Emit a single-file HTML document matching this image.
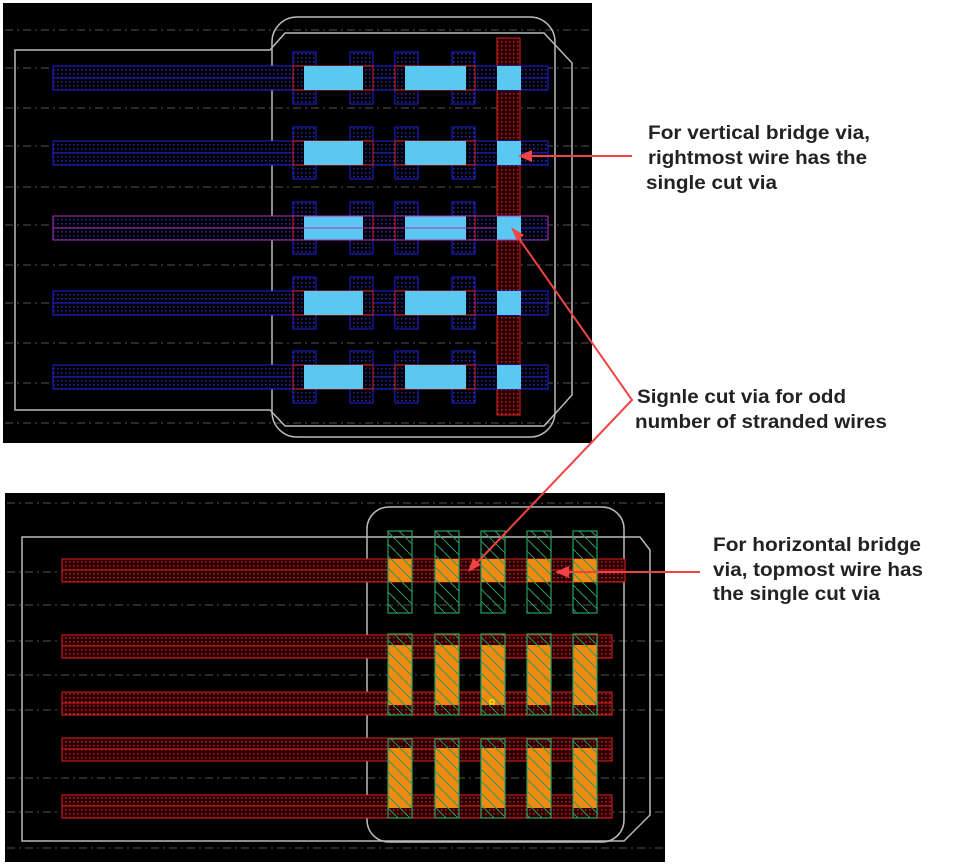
<!DOCTYPE html>
<html><head><meta charset="utf-8"><style>
html,body{margin:0;padding:0;background:#fff;}
svg{display:block;}
text{font-family:"Liberation Sans",Arial,sans-serif;font-weight:bold;font-size:19px;fill:#222;}
</style></head><body>
<svg width="960" height="866" viewBox="0 0 960 866" xmlns="http://www.w3.org/2000/svg">
<defs>
<pattern id="dotb" width="4" height="4" patternUnits="userSpaceOnUse"><rect width="4" height="4" fill="#000"/><rect x="1" y="1" width="1.5" height="1.5" fill="#2a2ab0"/></pattern>
<pattern id="dotr" width="4" height="4" patternUnits="userSpaceOnUse"><rect width="4" height="4" fill="#2a0000"/><rect x="1" y="1" width="1.5" height="1.5" fill="#c02020"/></pattern>
<pattern id="hatch" width="12" height="12" patternUnits="userSpaceOnUse"><path d="M0 0L12 12" stroke="#2a9a5a" stroke-width="1"/></pattern>
</defs>
<!-- TOP PANEL -->
<rect x="3" y="3" width="589" height="440" fill="#000"/>
<g stroke="#555" stroke-width="1" stroke-dasharray="8 4 2 4">
<line x1="5" y1="30" x2="590" y2="30"/><line x1="5" y1="68" x2="590" y2="68"/>
<line x1="5" y1="108" x2="590" y2="108"/><line x1="5" y1="146" x2="590" y2="146"/>
<line x1="5" y1="187" x2="590" y2="187"/><line x1="5" y1="225" x2="590" y2="225"/>
<line x1="5" y1="265" x2="590" y2="265"/><line x1="5" y1="303" x2="590" y2="303"/>
<line x1="5" y1="343" x2="590" y2="343"/><line x1="5" y1="383" x2="590" y2="383"/>
<line x1="5" y1="423" x2="590" y2="423"/>
</g>
<polygon points="15,50 270,50 285,33 544,33 572,63 572,395 544,426 285,426 270,410 15,410" fill="none" stroke="#bbb" stroke-width="1.5"/>
<rect x="272" y="17" width="283" height="420" rx="25" fill="none" stroke="#bbb" stroke-width="1.5"/>
<rect x="497" y="38" width="23" height="377" fill="url(#dotr)" stroke="#e02020"/>
<g id="row">
<rect x="53" y="66" width="495" height="24" fill="url(#dotb)" stroke="#2020e0"/>
<line x1="53" y1="78" x2="548" y2="78" stroke="#2020e0"/>
<rect x="293" y="52" width="23" height="52" fill="url(#dotb)" stroke="#2020e0"/>
<rect x="350" y="52" width="23" height="52" fill="url(#dotb)" stroke="#2020e0"/>
<rect x="395" y="52" width="23" height="52" fill="url(#dotb)" stroke="#2020e0"/>
<rect x="452" y="52" width="23" height="52" fill="url(#dotb)" stroke="#2020e0"/>
<rect x="293" y="66" width="80" height="24" fill="none" stroke="#e02020"/>
<rect x="395" y="66" width="80" height="24" fill="none" stroke="#e02020"/>
<rect x="304" y="66" width="59" height="24" fill="#5ac8f0"/>
<rect x="405" y="66" width="61" height="24" fill="#5ac8f0"/>
<rect x="497" y="66" width="24" height="24" fill="#5ac8f0"/>
</g>
<use href="#row" y="75"/>
<use href="#row" y="150"/>
<use href="#row" y="225"/>
<use href="#row" y="299"/>
<rect x="53" y="216" width="495" height="24" fill="none" stroke="#b030c0"/>
<line x1="53" y1="228" x2="497" y2="228" stroke="#b030c0"/>
<!-- BOTTOM PANEL -->
<rect x="5" y="493" width="660" height="369" fill="#000"/>
<g stroke="#555" stroke-width="1" stroke-dasharray="8 4 2 4">
<line x1="7" y1="503" x2="663" y2="503"/><line x1="7" y1="572" x2="663" y2="572"/>
<line x1="7" y1="605" x2="663" y2="605"/><line x1="7" y1="641" x2="663" y2="641"/>
<line x1="7" y1="675" x2="663" y2="675"/><line x1="7" y1="710" x2="663" y2="710"/>
<line x1="7" y1="778" x2="663" y2="778"/><line x1="7" y1="812" x2="663" y2="812"/>
<line x1="7" y1="848" x2="663" y2="848"/>
</g>
<polygon points="22,537 640,537 650,550 650,815 624,841 22,841" fill="none" stroke="#bbb" stroke-width="1.5"/>
<rect x="367" y="507" width="257" height="335" rx="22" fill="none" stroke="#bbb" stroke-width="1.5"/>
<g fill="url(#dotr)" stroke="#e02020">
<rect x="62" y="559" width="563" height="23"/>
<rect x="62" y="635" width="550" height="23"/>
<rect x="62" y="692" width="550" height="23"/>
<rect x="62" y="738" width="550" height="23"/>
<rect x="62" y="795" width="550" height="23"/>
</g>
<g stroke="#e02020">
<line x1="62" y1="570" x2="625" y2="570"/><line x1="62" y1="646" x2="612" y2="646"/>
<line x1="62" y1="703" x2="612" y2="703"/><line x1="62" y1="749" x2="612" y2="749"/>
<line x1="62" y1="806" x2="612" y2="806"/>
</g>
<g fill="#f08a10">
<rect x="388" y="559" width="24" height="23"/><rect x="435" y="559" width="24" height="23"/><rect x="481" y="559" width="24" height="23"/><rect x="527" y="559" width="24" height="23"/><rect x="573" y="559" width="24" height="23"/>
<rect x="388" y="645" width="24" height="60"/><rect x="435" y="645" width="24" height="60"/><rect x="481" y="645" width="24" height="60"/><rect x="527" y="645" width="24" height="60"/><rect x="573" y="645" width="24" height="60"/>
<rect x="388" y="748" width="24" height="60"/><rect x="435" y="748" width="24" height="60"/><rect x="481" y="748" width="24" height="60"/><rect x="527" y="748" width="24" height="60"/><rect x="573" y="748" width="24" height="60"/>
</g>
<g fill="url(#hatch)" stroke="#2aa060" stroke-width="1.2">
<rect x="388" y="531" width="24" height="82"/><rect x="435" y="531" width="24" height="82"/><rect x="481" y="531" width="24" height="82"/><rect x="527" y="531" width="24" height="82"/><rect x="573" y="531" width="24" height="82"/>
<rect x="388" y="634" width="24" height="81"/><rect x="435" y="634" width="24" height="81"/><rect x="481" y="634" width="24" height="81"/><rect x="527" y="634" width="24" height="81"/><rect x="573" y="634" width="24" height="81"/>
<rect x="388" y="739" width="24" height="79"/><rect x="435" y="739" width="24" height="79"/><rect x="481" y="739" width="24" height="79"/><rect x="527" y="739" width="24" height="79"/><rect x="573" y="739" width="24" height="79"/>
</g>
<rect x="490" y="700" width="4" height="4" fill="none" stroke="#ff0"/>
<!-- ARROWS -->
<g stroke="#ee4444" stroke-width="2" fill="none">
<line x1="632" y1="156" x2="522" y2="156"/>
<polyline points="513,230 632,400 472,568"/>
<line x1="700" y1="572" x2="560" y2="572"/>
</g>
<g fill="#ee4444">
<polygon points="518,156 532,150 532,162"/>
<polygon points="511,227 517,241 524,235"/>
<polygon points="468,572 473,558 481,565"/>
<polygon points="555,572 569,566 569,578"/>
</g>
<text x="648" y="139" textLength="222" lengthAdjust="spacingAndGlyphs">For vertical bridge via,</text>
<text x="648" y="164" textLength="219" lengthAdjust="spacingAndGlyphs">rightmost wire has the</text>
<text x="646" y="189" textLength="131" lengthAdjust="spacingAndGlyphs">single cut via</text>
<text x="637" y="403" textLength="209" lengthAdjust="spacingAndGlyphs">Signle cut via for odd</text>
<text x="635" y="428" textLength="252" lengthAdjust="spacingAndGlyphs">number of stranded wires</text>
<text x="713" y="551" textLength="208" lengthAdjust="spacingAndGlyphs">For horizontal bridge</text>
<text x="713" y="576" textLength="210" lengthAdjust="spacingAndGlyphs">via, topmost wire has</text>
<text x="713" y="600" textLength="167" lengthAdjust="spacingAndGlyphs">the single cut via</text>
</svg>
</body></html>
